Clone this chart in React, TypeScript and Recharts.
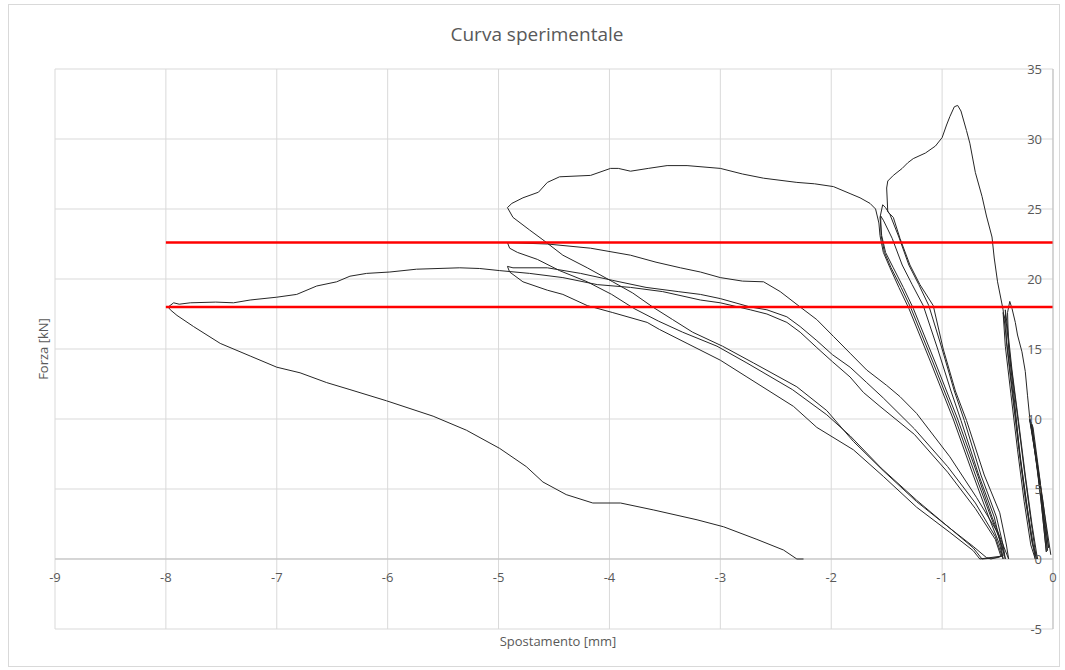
import React from 'react';
import { LineChart, Line, XAxis, YAxis, CartesianGrid, ReferenceLine } from 'recharts';

// [spostamento mm, forza kN], cycle by cycle
const cycle10kN: [number, number][] = [
  [-0.02, 0.3], [-0.09, 4.0], [-0.15, 7.0], [-0.21, 9.9],
  [-0.19, 9.6], [-0.13, 6.0], [-0.09, 3.2], [-0.05, 0.6],
  [-0.10, 4.2], [-0.16, 7.4], [-0.20, 9.8],
  [-0.18, 9.4], [-0.12, 5.8], [-0.08, 2.9], [-0.04, 0.8],
  [-0.09, 4.1], [-0.15, 7.3], [-0.21, 10.0],
  [-0.19, 9.5], [-0.14, 6.4], [-0.10, 3.6], [-0.06, 0.5],
  [-0.11, 4.3], [-0.16, 7.5], [-0.21, 10.1],
  [-0.23, 11.7], [-0.25, 13.4], [-0.28, 14.8], [-0.32, 16.0], [-0.34, 16.9], [-0.37, 17.9], [-0.39, 18.4],
];

const cycle18kN: [number, number][] = [
  [-0.41, 17.6], [-0.40, 15.0], [-0.35, 11.5], [-0.30, 7.5], [-0.24, 4.0], [-0.18, 1.0], [-0.14, 0.0],
  [-0.19, 2.5], [-0.25, 6.0], [-0.31, 9.8], [-0.37, 13.5], [-0.41, 16.5], [-0.43, 17.8],
  [-0.42, 15.5], [-0.37, 12.0], [-0.31, 8.0], [-0.25, 4.3], [-0.19, 1.2], [-0.15, 0.0],
  [-0.20, 2.8], [-0.26, 6.4], [-0.32, 10.2], [-0.38, 13.9], [-0.42, 16.8], [-0.45, 17.6],
  [-0.43, 15.2], [-0.38, 11.8], [-0.32, 7.8], [-0.26, 4.1], [-0.20, 1.0], [-0.16, 0.0],
];

const cyclePeak: [number, number][] = [
  [-0.22, 3.0], [-0.29, 7.0], [-0.35, 11.0], [-0.41, 15.0], [-0.45, 17.8], [-0.48, 19.0], [-0.50, 19.8],
  [-0.53, 21.5], [-0.55, 23.0], [-0.60, 24.5], [-0.64, 25.9], [-0.70, 27.6], [-0.75, 29.7], [-0.78, 30.6],
  [-0.83, 32.0], [-0.86, 32.4], [-0.89, 32.3], [-0.93, 31.6], [-0.96, 31.0], [-1.00, 30.1], [-1.06, 29.5],
  [-1.15, 29.0], [-1.26, 28.6], [-1.31, 28.3], [-1.36, 27.9], [-1.44, 27.4], [-1.49, 27.0], [-1.50, 26.5],
  [-1.49, 24.8], [-1.44, 24.4], [-1.38, 22.9], [-1.29, 21.0], [-1.20, 19.6], [-1.08, 18.1], [-0.99, 15.0],
  [-0.88, 12.0], [-0.78, 9.9], [-0.62, 6.0], [-0.48, 3.3], [-0.42, 1.0], [-0.40, 0.0],
];

const cycle25a: [number, number][] = [
  [-0.45, 1.0], [-0.55, 3.0], [-0.68, 6.0], [-0.86, 10.0], [-1.06, 14.0], [-1.26, 17.9], [-1.35, 19.4],
  [-1.44, 20.8], [-1.51, 21.9], [-1.545, 23.1], [-1.56, 24.4], [-1.536, 25.3], [-1.51, 25.1], [-1.47, 24.6],
  [-1.39, 23.0], [-1.30, 21.0], [-1.21, 19.6], [-1.12, 18.1], [-1.00, 15.0], [-0.89, 12.0], [-0.80, 9.9],
  [-0.65, 6.0], [-0.51, 3.0], [-0.45, 1.0], [-0.43, 0.0],
];

const cycle25b: [number, number][] = [
  [-0.46, 1.0], [-0.56, 3.0], [-0.70, 6.0], [-0.88, 10.0], [-1.08, 14.0], [-1.28, 17.9], [-1.37, 19.4],
  [-1.46, 20.8], [-1.52, 21.9], [-1.55, 23.1], [-1.554, 24.5], [-1.53, 24.2], [-1.45, 22.9], [-1.36, 21.0],
  [-1.27, 19.6], [-1.17, 18.1], [-1.04, 15.0], [-0.92, 12.0], [-0.83, 9.9], [-0.67, 6.0], [-0.53, 3.0],
  [-0.47, 1.0], [-0.45, 0.0],
];

const cycleTop: [number, number][] = [
  [-0.48, 1.0], [-0.58, 3.0], [-0.72, 6.0], [-0.90, 10.0], [-1.10, 14.0], [-1.30, 17.9], [-1.39, 19.4],
  [-1.47, 20.8], [-1.53, 21.9], [-1.56, 23.1], [-1.57, 24.0], [-1.60, 25.0], [-1.65, 25.4], [-1.74, 25.8],
  [-1.83, 26.1], [-1.98, 26.6], [-2.15, 26.8], [-2.31, 26.9], [-2.61, 27.2], [-2.80, 27.5], [-3.00, 27.9],
  [-3.30, 28.1], [-3.48, 28.1], [-3.65, 27.9], [-3.81, 27.7], [-3.92, 27.9], [-3.99, 27.9], [-4.17, 27.4],
  [-4.45, 27.3], [-4.56, 26.9], [-4.64, 26.2], [-4.78, 25.8], [-4.88, 25.4], [-4.92, 25.1], [-4.87, 24.4],
  [-4.72, 23.5], [-4.60, 22.8], [-4.42, 21.7], [-4.20, 20.8], [-3.97, 19.8], [-3.79, 19.0], [-3.61, 18.0],
  [-3.43, 17.1], [-3.25, 16.2], [-2.98, 15.2], [-2.70, 14.0], [-2.31, 12.3], [-2.04, 10.6], [-1.80, 8.4],
  [-1.53, 6.3], [-1.23, 4.1], [-0.93, 2.2], [-0.72, 0.8], [-0.64, 0.0],
];

const cycle22kN: [number, number][] = [
  [-0.50, 0.1], [-0.44, 0.3], [-0.50, 1.9], [-0.69, 4.4], [-0.93, 7.3], [-1.23, 10.4], [-1.38, 11.6],
  [-1.50, 12.4], [-1.68, 13.5], [-1.83, 14.7], [-1.98, 15.9], [-2.13, 17.1], [-2.28, 18.0], [-2.46, 19.1],
  [-2.61, 19.8], [-2.80, 19.85], [-3.00, 20.1], [-3.18, 20.5], [-3.36, 20.8], [-3.58, 21.2], [-3.81, 21.7],
  [-4.17, 22.2], [-4.56, 22.5], [-4.92, 22.6], [-4.90, 22.2], [-4.83, 21.9], [-4.65, 21.4], [-4.45, 20.6],
  [-4.20, 19.8], [-3.98, 18.9], [-3.78, 17.9], [-3.56, 17.0], [-3.34, 16.2], [-3.03, 15.2], [-2.76, 14.0],
  [-2.35, 12.1], [-2.04, 10.3], [-1.83, 8.8], [-1.55, 6.5], [-1.23, 4.2], [-0.93, 2.2], [-0.72, 0.9],
  [-0.60, 0.1], [-0.56, 0.0],
];

const cycle21kN: [number, number][] = [
  [-0.46, 0.2], [-0.52, 1.6], [-0.70, 4.0], [-0.95, 6.6], [-1.25, 9.3], [-1.53, 11.5], [-1.68, 12.6],
  [-1.83, 13.7], [-1.99, 14.6], [-2.13, 15.6], [-2.28, 16.6], [-2.40, 17.3], [-2.58, 17.8], [-2.73, 18.0],
  [-3.00, 18.6], [-3.18, 18.9], [-3.38, 19.1], [-3.67, 19.4], [-3.97, 19.9], [-4.26, 20.4], [-4.56, 20.8],
  [-4.87, 20.8], [-4.92, 20.9], [-4.90, 20.5], [-4.78, 19.8], [-4.56, 19.2], [-4.42, 18.9], [-4.20, 18.1],
  [-3.97, 17.6], [-3.66, 16.9], [-3.55, 16.4], [-3.30, 15.4], [-3.00, 14.2], [-2.76, 13.0], [-2.34, 10.9],
  [-2.13, 9.4], [-1.80, 7.8], [-1.53, 5.9], [-1.23, 3.7], [-0.93, 1.9], [-0.72, 0.6], [-0.66, 0.0],
];

const cycleLast: [number, number][] = [
  [-0.47, 0.2], [-0.52, 1.4], [-0.70, 3.6], [-0.95, 6.2], [-1.25, 8.9], [-1.56, 10.9], [-1.71, 11.9],
  [-1.83, 13.0], [-1.99, 14.1], [-2.13, 15.1], [-2.28, 16.2], [-2.40, 16.9], [-2.58, 17.5], [-2.73, 17.8],
  [-3.00, 18.3], [-3.18, 18.5], [-3.52, 19.1], [-3.81, 19.4], [-4.11, 19.6], [-4.42, 20.1], [-4.72, 20.4],
  [-4.99, 20.6], [-5.17, 20.75], [-5.35, 20.8], [-5.74, 20.7], [-5.98, 20.5], [-6.19, 20.4], [-6.34, 20.2],
  [-6.46, 19.8], [-6.64, 19.5], [-6.82, 18.9], [-7.00, 18.7], [-7.24, 18.5], [-7.39, 18.3], [-7.55, 18.35],
  [-7.78, 18.3], [-7.88, 18.2], [-7.93, 18.3], [-7.98, 18.0], [-7.96, 17.8], [-7.90, 17.4], [-7.75, 16.6],
  [-7.51, 15.4], [-7.24, 14.5], [-7.00, 13.7], [-6.79, 13.3], [-6.55, 12.6], [-6.34, 12.1], [-6.01, 11.3],
  [-5.59, 10.2], [-5.29, 9.2], [-4.99, 7.9], [-4.75, 6.6], [-4.60, 5.5], [-4.39, 4.6], [-4.15, 4.0],
  [-3.90, 4.0], [-3.60, 3.5], [-3.21, 2.8], [-2.97, 2.3], [-2.67, 1.4], [-2.43, 0.64], [-2.31, 0.0],
  [-2.25, 0.0],
];

// the two red threshold lines
const RED_X = [-8, 0];
const RED_LEVELS = [22.6, 18.0];

const X_TICKS = [-9, -8, -7, -6, -5, -4, -3, -2, -1, 0];
const Y_TICKS = [-5, 0, 5, 10, 15, 20, 25, 30, 35];

const W = 1065;
const H = 670;
const MARGIN = { top: 69, right: 11, bottom: 40, left: 55 };
const PLOT_H = H - MARGIN.top - MARGIN.bottom - 1;
const PLOT_RIGHT = W - MARGIN.right - 1;
const ZERO_Y = MARGIN.top + (PLOT_H * 35) / 40;

const FONT = '"Open Sans", "Noto Sans", sans-serif';
const TEXT = '#595959';

const curveData = [
  ...cycle10kN, ...cycle18kN, ...cyclePeak, ...cycle25a, ...cycle25b,
  ...cycleTop, ...cycle22kN, ...cycle21kN, ...cycleLast,
].map(([s, f]) => ({ s, f }));

const renderXTick = (props: any) => (
  <text
    key={`x-${props.payload.value}`}
    x={props.x}
    y={ZERO_Y + 23}
    textAnchor="middle"
    fill={TEXT}
    fontSize={13}
    fontFamily={FONT}
  >
    {props.payload.value}
  </text>
);

const renderYTick = (props: any) => (
  <text
    key={`y-${props.payload.value}`}
    x={PLOT_RIGHT - 11}
    y={props.y + 5}
    textAnchor="end"
    fill={TEXT}
    fontSize={13}
    fontFamily={FONT}
  >
    {props.payload.value}
  </text>
);

export default function App() {
  return (
    <div style={{ position: 'absolute', left: 0, top: 0, width: W, height: H, background: '#fff', fontFamily: FONT }}>
      <div style={{ position: 'absolute', left: 8, top: 4, width: 1050, height: 661, border: '1px solid #d9d9d9' }} />
      <div style={{ position: 'absolute', left: 0, width: W + 9, top: 21, textAlign: 'center', fontSize: 19, color: TEXT }}>
        Curva sperimentale
      </div>
      <div style={{ position: 'absolute', left: MARGIN.left, width: PLOT_RIGHT - MARGIN.left + 8, top: 632, textAlign: 'center', fontSize: 13, color: TEXT }}>
        Spostamento [mm]
      </div>
      <div
        style={{
          position: 'absolute', left: 43, top: MARGIN.top + PLOT_H / 2, fontSize: 13, color: TEXT,
          transform: 'translate(-50%, -50%) rotate(-90deg)', whiteSpace: 'nowrap',
        }}
      >
        Forza [kN]
      </div>
      <div style={{ position: 'absolute', left: 0, top: 0 }}>
        <LineChart width={W} height={H} margin={MARGIN}>
          <CartesianGrid stroke="#d9d9d9" strokeWidth={1} />
          <XAxis
            type="number"
            dataKey="s"
            domain={[-9, 0]}
            ticks={X_TICKS}
            interval={0}
            height={1}
            axisLine={false}
            tickLine={false}
            tick={renderXTick}
            allowDataOverflow
          />
          <YAxis
            type="number"
            orientation="right"
            domain={[-5, 35]}
            ticks={Y_TICKS}
            interval={0}
            width={1}
            axisLine={{ stroke: '#bfbfbf' }}
            tickLine={false}
            tick={renderYTick}
            allowDataOverflow
          />
          <ReferenceLine y={0} stroke="#bfbfbf" strokeWidth={1} />
          <Line
            data={curveData}
            dataKey="f"
            type="linear"
            stroke="#262626"
            strokeWidth={1}
            dot={false}
            isAnimationActive={false}
          />
          {RED_LEVELS.map((level) => (
            <Line
              key={level}
              data={RED_X.map((s) => ({ s, f: level }))}
              dataKey="f"
              type="linear"
              stroke="#ff0000"
              strokeWidth={2.5}
              dot={false}
              isAnimationActive={false}
            />
          ))}
        </LineChart>
      </div>
    </div>
  );
}
